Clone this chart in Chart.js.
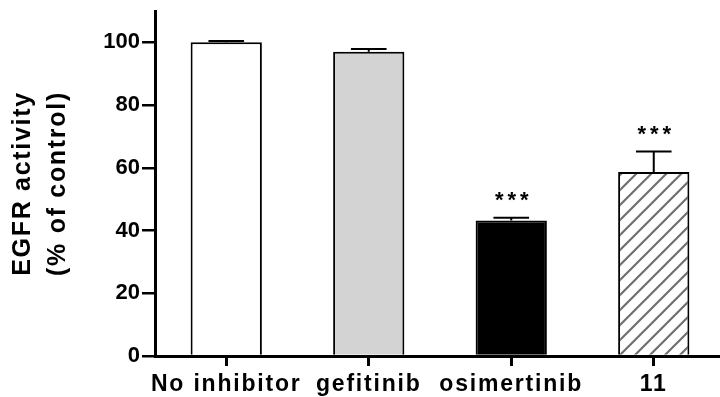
<!DOCTYPE html>
<html><head><meta charset="utf-8">
<script src="https://cdn.jsdelivr.net/npm/chart.js@4"></script>
<style>
html,body{margin:0;padding:0;background:#fff;overflow:hidden;width:720px;height:397px}
#wrap{width:726px;height:397px}
</style></head>
<body><div id="wrap"><canvas id="c" width="726" height="397"></canvas></div>
<script>
const categories = ['No inhibitor', 'gefitinib', 'osimertinib', '11'];
const activity = [100, 97, 43.2, 58.7];
const sem = [0.4, 0.9, 0.9, 6.5];
const significance = ['', '', '***', '***'];
const yTicks = [0, 20, 40, 60, 80, 100];
const yTitle = ['EGFR activity', '(% of control)'];

const FONT = '"Liberation Sans", Arial, Helvetica, sans-serif';

function hatchPattern() {
  const s = 15;
  const c = document.createElement('canvas');
  c.width = s; c.height = s;
  const x = c.getContext('2d');
  x.fillStyle = '#fff'; x.fillRect(0, 0, s, s);
  x.strokeStyle = '#707070'; x.lineWidth = 2.2;
  x.beginPath();
  x.moveTo(-3, s + 3); x.lineTo(s + 3, -3);
  x.moveTo(-3, 3); x.lineTo(3, -3);
  x.moveTo(s - 3, s + 3); x.lineTo(s + 3, s - 3);
  x.stroke();
  return x.createPattern(c, 'repeat');
}

const spacedDraw = {
  id: 'spacedDraw',
  afterLayout(chart) {
    const xs = chart.scales.x, ys = chart.scales.y;
    if (!xs._spaced) {
      const o = xs.drawLabels.bind(xs);
      xs.drawLabels = function (a) { const c = chart.ctx; c.save(); c.letterSpacing = '1.8px'; o(a); c.restore(); };
      xs._spaced = true;
    }
    if (!ys._spaced) {
      const o = ys.drawTitle.bind(ys);
      ys.drawTitle = function (a) { const c = chart.ctx; c.save(); c.letterSpacing = '1.7px'; o(a); c.restore(); };
      ys._spaced = true;
    }
  }
};

const errorBars = {
  id: 'errorBars',
  afterDatasetsDraw(chart) {
    const ctx = chart.ctx, y = chart.scales.y;
    const meta = chart.getDatasetMeta(0);
    ctx.save();
    ctx.strokeStyle = '#000';
    ctx.lineWidth = 2;
    meta.data.forEach((bar, i) => {
      const xc = bar.x;
      const base = y.getPixelForValue(activity[i]);
      const top = y.getPixelForValue(activity[i] + sem[i]);
      const hw = bar.width / 4;
      ctx.beginPath();
      ctx.moveTo(xc, base); ctx.lineTo(xc, top);
      ctx.moveTo(xc - hw, top); ctx.lineTo(xc + hw, top);
      ctx.stroke();
      if (significance[i]) {
        ctx.fillStyle = '#000';
        ctx.font = 'bold 22px ' + FONT;
        ctx.textAlign = 'center';
        ctx.textBaseline = 'alphabetic';
        ctx.letterSpacing = '4px';
        ctx.fillText(significance[i], xc + 2.5, top - 10.5);
        ctx.letterSpacing = '0px';
      }
    });
    ctx.restore();
  }
};

const ctx = document.getElementById('c').getContext('2d');
new Chart(ctx, {
  type: 'bar',
  data: {
    labels: categories,
    datasets: [{
      data: activity,
      backgroundColor: ['#ffffff', '#d3d3d3', '#000000', hatchPattern()],
      borderColor: '#000',
      borderWidth: 2,
      borderSkipped: 'bottom',
      barPercentage: 0.5,
      categoryPercentage: 1.0
    }]
  },
  options: {
    responsive: false,
    animation: false,
    devicePixelRatio: 1,
    layout: { padding: { top: 11, right: 1, left: 0, bottom: 0 } },
    plugins: { legend: { display: false }, tooltip: { enabled: false } },
    scales: {
      x: {
        type: 'category',
        offset: true,
        grid: { display: true, drawOnChartArea: false, offset: false, drawTicks: true, tickLength: 10, color: '#000', lineWidth: 3 },
        border: { display: true, color: '#000', width: 3 },
        ticks: { color: '#000', font: { family: FONT, size: 23, weight: 'bold' }, padding: 5, maxRotation: 0, autoSkip: false },
        afterFit(s) { s.height = 41; s.paddingLeft = 0; s.paddingRight = 0; }
      },
      y: {
        min: 0, max: 110,
        afterBuildTicks(s) { s.ticks = yTicks.map(v => ({ value: v })); },
        grid: { display: true, drawOnChartArea: false, drawTicks: true, tickLength: 13, color: '#000', lineWidth: 2.5 },
        border: { display: true, color: '#000', width: 3 },
        ticks: { color: '#000', font: { family: FONT, size: 22, weight: 'bold' }, padding: 2 },
        title: { display: true, text: yTitle, color: '#000', font: { family: FONT, size: 25, weight: 'bold', lineHeight: 1.38 }, padding: { top: 6, bottom: 0 } },
        afterFit(s) { s.width = 155; s.paddingTop = 0; s.paddingBottom = 0; }
      }
    }
  },
  plugins: [spacedDraw, errorBars]
});
</script>
</body></html>
